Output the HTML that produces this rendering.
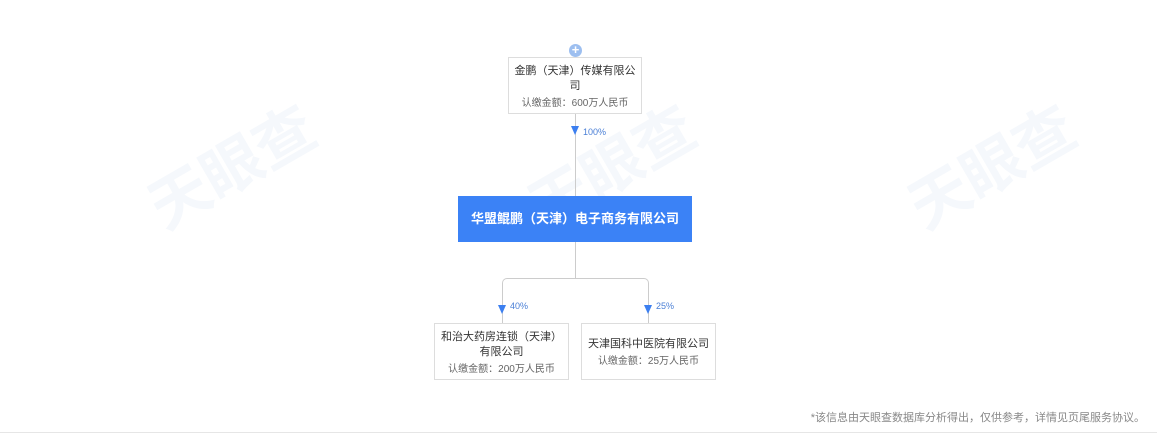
<!DOCTYPE html>
<html><head><meta charset="utf-8"><style>
body{margin:0;width:1157px;height:434px;background:#fff;position:relative;overflow:hidden;font-family:"Liberation Sans","Noto Sans CJK SC",sans-serif;}
.a{position:absolute;box-sizing:border-box}
.box{border:1px solid #ddd;background:#fff;text-align:center;color:#333;font-size:11px;line-height:15px}
.sub{color:#666;font-size:10px}
.wm{position:absolute;color:#f5f8fc;font-size:60px;font-weight:bold;transform:rotate(-30deg)}
.pct{position:absolute;font-size:9px;color:#4a7fd6}
.tri{position:absolute;width:0;height:0;border-left:4px solid transparent;border-right:4px solid transparent;border-top:9px solid #3c7ff0}
</style></head><body>
<div class="wm" style="left:140px;top:120px">天眼查</div>
<div class="wm" style="left:520px;top:120px">天眼查</div>
<div class="wm" style="left:900px;top:120px">天眼查</div>
<div class="a" style="left:0;top:432px;width:1157px;height:1px;background:#e6e6e6"></div>
<div class="a" style="left:575px;top:113px;width:1px;height:83px;background:#ccc"></div>
<div class="a" style="left:575px;top:242px;width:1px;height:36px;background:#ccc"></div>
<div class="a" style="left:502px;top:278px;width:147px;height:46px;border:1px solid #ccc;border-bottom:none;border-radius:5px 5px 0 0"></div>
<div class="a" style="left:569px;top:44px;width:13px;height:13px;border-radius:50%;background:#9dbff0;color:#fff;font-size:13px;line-height:12px;text-align:center;font-weight:bold">+</div>
<div class="a box" style="left:508px;top:57px;width:134px;height:57px;padding-top:6px">金鹏（天津）传媒有限公<br>司<div class="sub" style="margin-top:2px">认缴金额：600万人民币</div></div>
<div class="tri" style="left:571px;top:126px"></div><div class="pct" style="left:583px;top:127px">100%</div>
<div class="a" style="left:458px;top:196px;width:234px;height:46px;background:#3b82f6;color:#fff;font-weight:bold;font-size:13px;line-height:46px;text-align:center">华盟鲲鹏（天津）电子商务有限公司</div>
<div class="tri" style="left:498px;top:305px"></div><div class="pct" style="left:510px;top:301px">40%</div>
<div class="tri" style="left:644px;top:305px"></div><div class="pct" style="left:656px;top:301px">25%</div>
<div class="a box" style="left:434px;top:323px;width:135px;height:57px;padding-top:6px">和治大药房连锁（天津）<br>有限公司<div class="sub" style="margin-top:2px">认缴金额：200万人民币</div></div>
<div class="a box" style="left:581px;top:323px;width:135px;height:57px;padding-top:13px">天津国科中医院有限公司<div class="sub" style="margin-top:2px">认缴金额：25万人民币</div></div>
<div class="a" style="right:12px;top:409px;font-size:11px;color:#888">*该信息由天眼查数据库分析得出，仅供参考，详情见页尾服务协议。</div>
</body></html>
